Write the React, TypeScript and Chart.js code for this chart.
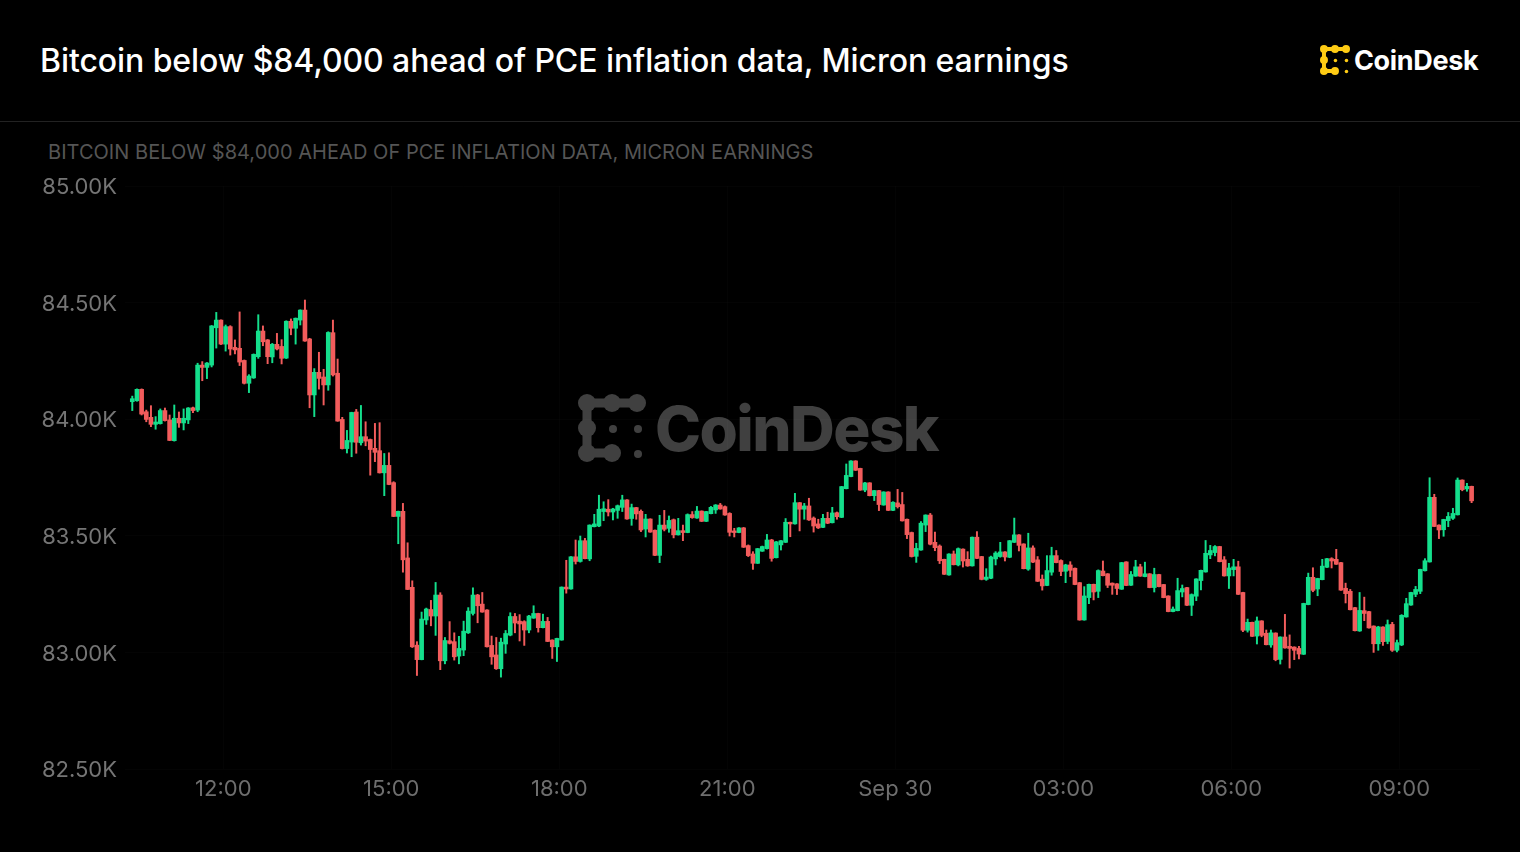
import React, { useEffect, useRef } from "react";
import { Chart, registerables } from "chart.js";

Chart.register(...registerables);

const TITLE = "Bitcoin below $84,000 ahead of PCE inflation data, Micron earnings";
const SUBTITLE = "BITCOIN BELOW $84,000 AHEAD OF PCE INFLATION DATA, MICRON EARNINGS";
const tickLabels = ["12:00", "15:00", "18:00", "21:00", "Sep 30", "03:00", "06:00", "09:00"];
const tickCandleIndexes = [19.5, 55.5, 91.5, 127.5, 163.5, 199.5, 235.5, 271.5];

const opens = [
  84075,84079,84128,84032,84008,83978,83981,84037,83997,83908,
  84004,83984,83997,84049,84039,84232,84222,84232,84392,84425,
  84322,84397,84308,84304,84252,84154,84177,84268,84378,84340,
  84267,84321,84312,84262,84420,84390,84425,84468,84344,84104,
  84201,84181,84147,84371,84197,83999,83874,83902,84031,83899,
  83925,83913,83875,83865,83770,83802,83728,83583,83605,83405,
  83279,83031,82969,83139,83184,83156,83246,82964,83050,83046,
  82984,83010,83084,83167,83246,83207,83182,83030,82989,82930,
  83036,83074,83154,83134,83132,83096,83147,83167,83106,83133,
  83053,83024,83053,83280,83272,83410,83390,83479,83401,83539,
  83542,83604,83614,83602,83609,83622,83654,83574,83621,83605,
  83529,83572,83524,83416,83546,83532,83569,83504,83522,83514,
  83591,83576,83606,83562,83595,83611,83632,83625,83596,83521,
  83514,83534,83458,83422,83382,83434,83445,83482,83406,83461,
  83472,83558,83551,83642,83614,83628,83576,83551,83536,83575,
  83556,83599,83579,83702,83754,83821,83789,83696,83727,83672,
  83694,83632,83688,83609,83641,83634,83571,83514,83412,83439,
  83546,83589,83472,83456,83399,83332,83422,83375,83443,83399,
  83371,83494,83411,83313,83318,83401,83411,83431,83408,83472,
  83504,83465,83357,83448,83397,83314,83287,83344,83415,83394,
  83348,83375,83361,83299,83139,83235,83292,83262,83349,83337,
  83297,83294,83271,83388,83288,83327,83367,83325,83337,83278,
  83334,83291,83242,83175,83179,83259,83278,83202,83241,83308,
  83345,83418,83428,83454,83397,83328,83355,83367,83257,83095,
  83129,83070,83135,83082,83032,83083,82970,83066,83026,83023,
  83017,82992,83205,83322,83272,83312,83365,83402,83399,83385,
  83275,83262,83192,83092,83179,83175,83113,83037,83109,83047,
  83120,83009,83032,83152,83203,83249,83262,83350,83388,83665,
  83546,83526,83565,83575,83590,83739,83701,83712,
];

const closes = [
  84088,84128,84022,83999,83978,83988,84037,83994,83909,84004,
  83984,84004,84048,84037,84232,84222,84241,84400,84425,84322,
  84397,84301,84297,84245,84154,84185,84278,84378,84332,84268,
  84321,84301,84261,84420,84390,84433,84468,84335,84104,84201,
  84175,84147,84372,84190,83992,83874,83909,84029,83901,83925,
  83906,83870,83858,83770,83802,83720,83583,83605,83397,83270,
  83024,82969,83143,83186,83156,83246,82964,83051,83039,82981,
  83017,83091,83177,83246,83200,83173,83024,82981,82930,83044,
  83081,83154,83126,83122,83096,83156,83167,83106,83133,83047,
  83024,83060,83280,83272,83410,83390,83479,83402,83546,83551,
  83614,83616,83602,83615,83629,83654,83572,83621,83594,83525,
  83572,83516,83416,83546,83528,83566,83504,83522,83514,83591,
  83578,83606,83562,83604,83622,83632,83615,83589,83515,83514,
  83534,83451,83415,83382,83445,83454,83482,83403,83474,83479,
  83558,83551,83642,83614,83628,83568,83542,83534,83575,83554,
  83598,83582,83711,83759,83821,83781,83696,83727,83672,83694,
  83634,83688,83609,83644,83625,83564,83505,83411,83446,83554,
  83589,83464,83449,83393,83335,83422,83376,83445,83392,83371,
  83494,83403,83313,83323,83409,83426,83431,83409,83479,83504,
  83459,83359,83448,83387,83305,83285,83351,83415,83385,83347,
  83375,83352,83291,83139,83242,83292,83259,83351,83329,83288,
  83288,83274,83385,83287,83334,83367,83327,83337,83278,83334,
  83282,83235,83175,83186,83265,83274,83202,83248,83315,83352,
  83425,83437,83454,83389,83328,83362,83367,83249,83095,83129,
  83069,83135,83073,83033,83084,82969,83066,83019,83017,83009,
  82993,83210,83322,83266,83317,83370,83402,83392,83378,83267,
  83252,83183,83093,83180,83167,83105,83037,83109,83046,83119,
  83009,83042,83159,83209,83257,83270,83356,83393,83665,83540,
  83525,83570,83583,83596,83739,83698,83712,83650,
];

const highs = [
  84099,84130,84130,84039,84058,84011,84044,84048,84018,84061,
  84031,84044,84050,84052,84240,84247,84243,84402,84458,84426,
  84404,84401,84340,84460,84254,84191,84280,84448,84400,84342,
  84325,84368,84341,84422,84430,84434,84469,84511,84347,84217,
  84287,84214,84375,84425,84258,84008,83952,84030,84042,84059,
  83989,83915,83982,83985,83853,83856,83732,83606,83639,83470,
  83307,83046,83173,83190,83223,83300,83256,83064,83132,83084,
  83069,83134,83192,83277,83249,83257,83183,83070,83064,83061,
  83094,83170,83167,83162,83136,83159,83200,83168,83164,83150,
  83054,83061,83281,83395,83411,83482,83499,83489,83547,83592,
  83674,83646,83655,83618,83632,83674,83655,83636,83622,83611,
  83592,83573,83525,83588,83609,83585,83572,83575,83546,83594,
  83604,83626,83607,83605,83626,83634,83639,83628,83599,83532,
  83535,83536,83461,83432,83446,83456,83506,83485,83476,83480,
  83574,83559,83682,83643,83639,83661,83581,83571,83592,83601,
  83622,83602,83712,83808,83822,83822,83790,83729,83728,83695,
  83695,83689,83689,83646,83699,83686,83572,83516,83468,83561,
  83590,83596,83516,83461,83400,83423,83435,83448,83444,83432,
  83495,83518,83412,83359,83413,83432,83472,83432,83480,83576,
  83505,83466,83511,83457,83411,83332,83415,83451,83437,83397,
  83378,83389,83362,83300,83282,83293,83293,83354,83392,83338,
  83298,83295,83386,83389,83347,83395,83378,83387,83338,83361,
  83335,83292,83243,83195,83318,83289,83279,83251,83316,83353,
  83480,83459,83458,83455,83411,83382,83399,83391,83258,83143,
  83130,83152,83136,83096,83096,83084,83067,83163,83075,83024,
  83026,83211,83340,83363,83318,83399,83403,83406,83442,83386,
  83297,83270,83193,83257,83237,83176,83114,83112,83110,83139,
  83129,83053,83162,83232,83258,83283,83357,83402,83749,83678,
  83547,83571,83600,83618,83748,83740,83725,83713,
];

const lows = [
  84037,84077,84018,83989,83968,83957,83979,83992,83908,83906,
  83965,83954,83981,84028,84032,84165,84174,84224,84305,84320,
  84292,84275,84280,84230,84151,84114,84175,84261,84315,84238,
  84242,84297,84237,84260,84362,84322,84404,84334,84049,84011,
  84129,84061,84124,84185,83991,83872,83855,83839,83854,83889,
  83886,83760,83818,83769,83672,83719,83582,83466,83344,83269,
  83021,82901,82968,83120,83114,83073,82926,82951,83036,82967,
  82951,82986,83081,83160,83127,83172,83023,82949,82927,82894,
  82996,83071,83084,83049,83030,83084,83146,83087,83105,83046,
  82974,82961,83052,83254,83271,83379,83387,83401,83393,83538,
  83539,83565,83585,83568,83575,83604,83571,83545,83571,83518,
  83495,83515,83415,83385,83521,83515,83491,83503,83479,83513,
  83575,83575,83561,83561,83594,83596,83614,83588,83499,83495,
  83513,83450,83411,83356,83381,83433,83443,83391,83405,83439,
  83471,83496,83550,83521,83571,83566,83516,83531,83535,83552,
  83555,83571,83578,83701,83753,83780,83695,83689,83671,83651,
  83608,83631,83608,83608,83619,83563,83488,83409,83386,83438,
  83518,83461,83436,83381,83334,83331,83375,83371,83366,83369,
  83370,83402,83311,83309,83316,83375,83408,83392,83406,83471,
  83435,83358,83352,83385,83304,83267,83286,83331,83384,83329,
  83299,83325,83290,83138,83138,83209,83225,83235,83328,83278,
  83249,83248,83270,83286,83287,83326,83326,83324,83277,83259,
  83281,83234,83174,83174,83178,83238,83201,83158,83222,83268,
  83344,83402,83414,83388,83327,83274,83328,83248,83089,83087,
  83068,83036,83067,83032,83022,82964,82950,83018,82933,82969,
  82972,82991,83204,83260,83243,83311,83364,83362,83377,83266,
  83212,83182,83092,83090,83136,83104,83000,83009,83030,83037,
  83004,83002,83029,83151,83202,83239,83252,83349,83387,83539,
  83488,83498,83539,83570,83589,83693,83691,83642,
];

const UP = "#14DF8C";
const DOWN = "#F25C5C";
const colours = closes.map((c, i) => (c >= opens[i] ? UP : DOWN));
const FONT = "Inter, 'Liberation Sans', sans-serif";

function LogoMark({ size, colour, style }: { size: number; colour: string; style: React.CSSProperties }) {
  const big = [[9, 9], [34, 9], [59, 9], [9, 34], [9, 59], [34, 59]];
  const dots = [[35, 35], [60, 35], [60, 60]];
  return (
    <svg width={size} height={size} viewBox="0 0 68 68" style={{ position: "absolute", ...style }}>
      <path d="M9 9 H59 M9 9 V59 H34" fill="none" stroke={colour} strokeWidth={9} />
      {big.map(([x, y], i) => <circle key={i} cx={x} cy={y} r={9} fill={colour} />)}
      {dots.map(([x, y], i) => <circle key={i} cx={x} cy={y} r={4} fill={colour} />)}
    </svg>
  );
}

export default function App() {
  const canvasRef = useRef<HTMLCanvasElement | null>(null);

  useEffect(() => {
    document.body.style.margin = "0";
    document.body.style.background = "#000";
    const chart = new Chart(canvasRef.current as HTMLCanvasElement, {
      type: "bar",
      data: {
        datasets: [
          {
            label: "body",
            data: opens.map((o, i) => ({ x: i, y: [o, closes[i]] })) as any,
            backgroundColor: colours,
            barThickness: 4,
            grouped: false,
            borderWidth: 0,
          },
          {
            label: "wick",
            data: lows.map((l, i) => ({ x: i, y: [l, highs[i]] })) as any,
            backgroundColor: colours,
            barThickness: 1.3,
            grouped: false,
            borderWidth: 0,
          },
        ],
      },
      options: {
        animation: false,
        responsive: false,
        devicePixelRatio: 1,
        layout: { padding: { top: 186, right: 40, left: 0, bottom: 0 } },
        plugins: { legend: { display: false }, tooltip: { enabled: false }, title: { display: false } },
        scales: {
          x: {
            type: "linear",
            offset: false,
            min: -1.56,
            max: 288.8,
            afterBuildTicks: (axis: any) => {
              axis.ticks = tickCandleIndexes.map((value) => ({ value }));
            },
            afterFit: (axis: any) => {
              axis.height = 83;
            },
            border: { display: false },
            grid: { color: "rgba(255,255,255,0.015)", drawTicks: false, offset: false },
            ticks: {
              autoSkip: false,
              maxRotation: 0,
              padding: 7,
              color: "#6e6e6e",
              font: { family: FONT, size: 22 },
              callback: (_v: any, i: number) => tickLabels[i],
            },
          },
          y: {
            type: "linear",
            min: 82500,
            max: 85000,
            afterFit: (axis: any) => {
              axis.width = 125;
            },
            border: { display: false },
            grid: { color: "rgba(255,255,255,0.015)", drawTicks: false },
            ticks: {
              stepSize: 500,
              padding: 8,
              labelOffset: 1.5,
              color: "#757575",
              font: { family: FONT, size: 22 },
              callback: (v: any) => (Number(v) / 1000).toFixed(2) + "K",
            },
          },
        },
      },
    } as any);
    return () => chart.destroy();
  }, []);

  const text = (s: React.CSSProperties): React.CSSProperties => ({
    position: "absolute",
    fontFamily: FONT,
    whiteSpace: "nowrap",
    lineHeight: 1,
    ...s,
  });

  return (
    <div style={{ position: "relative", width: 1520, height: 852, background: "#000", overflow: "hidden" }}>
      <div style={text({ left: 40, top: 45, fontSize: 32, fontWeight: 500, color: "#fff", letterSpacing: -0.08 })}>{TITLE}</div>
      <LogoMark size={30} colour="#FFCC14" style={{ left: 1320, top: 45 }} />
      <div style={text({ left: 1354, top: 47, fontSize: 27, fontWeight: 700, color: "#fff", letterSpacing: -0.35 })}>CoinDesk</div>
      <div style={{ position: "absolute", left: 0, top: 121, width: 1520, height: 1, background: "#222" }} />
      <div style={text({ left: 48, top: 142, fontSize: 20, color: "#555", letterSpacing: 0.04 })}>{SUBTITLE}</div>
      <LogoMark size={68} colour="#404040" style={{ left: 578, top: 394 }} />
      <div style={text({ left: 655, top: 398, fontSize: 62, fontWeight: 800, color: "#404040", letterSpacing: -1.6 })}>CoinDesk</div>
      <canvas ref={canvasRef} width={1520} height={852} style={{ position: "absolute", left: 0, top: 0 }} />
    </div>
  );
}
